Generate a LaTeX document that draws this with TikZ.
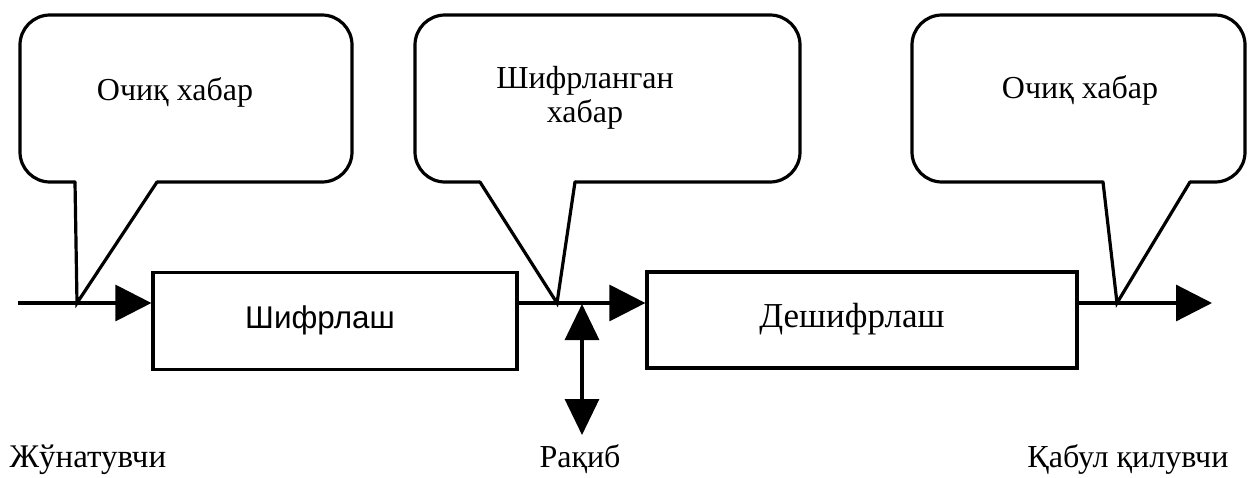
\documentclass[tikz,border=0pt]{standalone}
\usepackage{fontspec}
\setmainfont{Liberation Serif}
\setsansfont{Liberation Sans}
\usetikzlibrary{arrows.meta}
\begin{document}
\begin{tikzpicture}[x=0.5pt,y=-0.5pt,line width=1.6pt,line cap=round,
  tri/.style={-{Triangle[length=18pt,width=18pt]},line cap=butt},
  dtri/.style={{Triangle[length=18pt,width=17pt]}-{Triangle[length=18pt,width=17pt]},line cap=butt},
  blockbox/.style={draw,rectangle,inner sep=0pt},
  serif/.style={font=\fontsize{16pt}{17pt}\selectfont,inner sep=0pt},
  sans/.style={font=\sffamily\fontsize{15.7pt}{17pt}\selectfont,inner sep=0pt},
  bubble/.style={rounded corners=15pt},
  tail/.style={line join=miter}]
\useasboundingbox (0,0) rectangle (1248,477);

% blocks
\node[blockbox,minimum width=182pt,minimum height=48.5pt] (enc) at (335,321) {};
\node[blockbox,minimum width=215pt,minimum height=48pt] (dec) at (862,320) {};
\node[sans,anchor=base] (enct) at (320,328) {Шифрлаш};
\node[serif,font=\fontsize{17.5pt}{19pt}\selectfont,anchor=base] (dect) at (852,327) {Дешифрлаш};

% main line
\coordinate (src) at (18,303);
\coordinate (snk) at (1212,303);
\draw[tri] (src) -- (src -| enc.west);
\draw[tri] (enc.east |- src) -- (dec.west |- src);
\draw[tri] (dec.east |- src) -- (snk);

% rival
\coordinate (spy) at (582,304);
\coordinate (spyend) at (582,435);
\draw[dtri] (spy) -- (spyend);

% callout 1
\coordinate (t1) at (77,303);
\draw[bubble] (75,182) -- (20,182) -- (20,15) -- (352,15) -- (352,182) -- (157,182);
\draw[tail] (75,182) -- (t1) -- (157,182);
\node[serif,anchor=base] (c1) at (175,100) {Очиқ хабар};

% callout 2
\coordinate (t2) at (557,303);
\draw[bubble] (480,182) -- (415,182) -- (415,15) -- (800,15) -- (800,182) -- (575,182);
\draw[tail] (480,182) -- (t2) -- (575,182);
\node[serif,align=center] (c2) at (585,98) {Шифрланган\\хабар};

% callout 3
\coordinate (t3) at (1117,303);
\draw[bubble] (1103,182) -- (912,182) -- (912,15) -- (1245,15) -- (1245,182) -- (1190,182);
\draw[tail] (1103,182) -- (t3) -- (1190,182);
\node[serif,anchor=base] (c3) at (1080,98) {Очиқ хабар};

% labels
\node[serif,font=\fontsize{16.5pt}{18pt}\selectfont,anchor=base west] (snd) at (8,467) {Жўнатувчи};
\node[serif,anchor=base] (riv) at (580,467) {Рақиб};
\node[serif,anchor=base east] (rcv) at (1230,467) {Қабул қилувчи};
\end{tikzpicture}
\end{document}
